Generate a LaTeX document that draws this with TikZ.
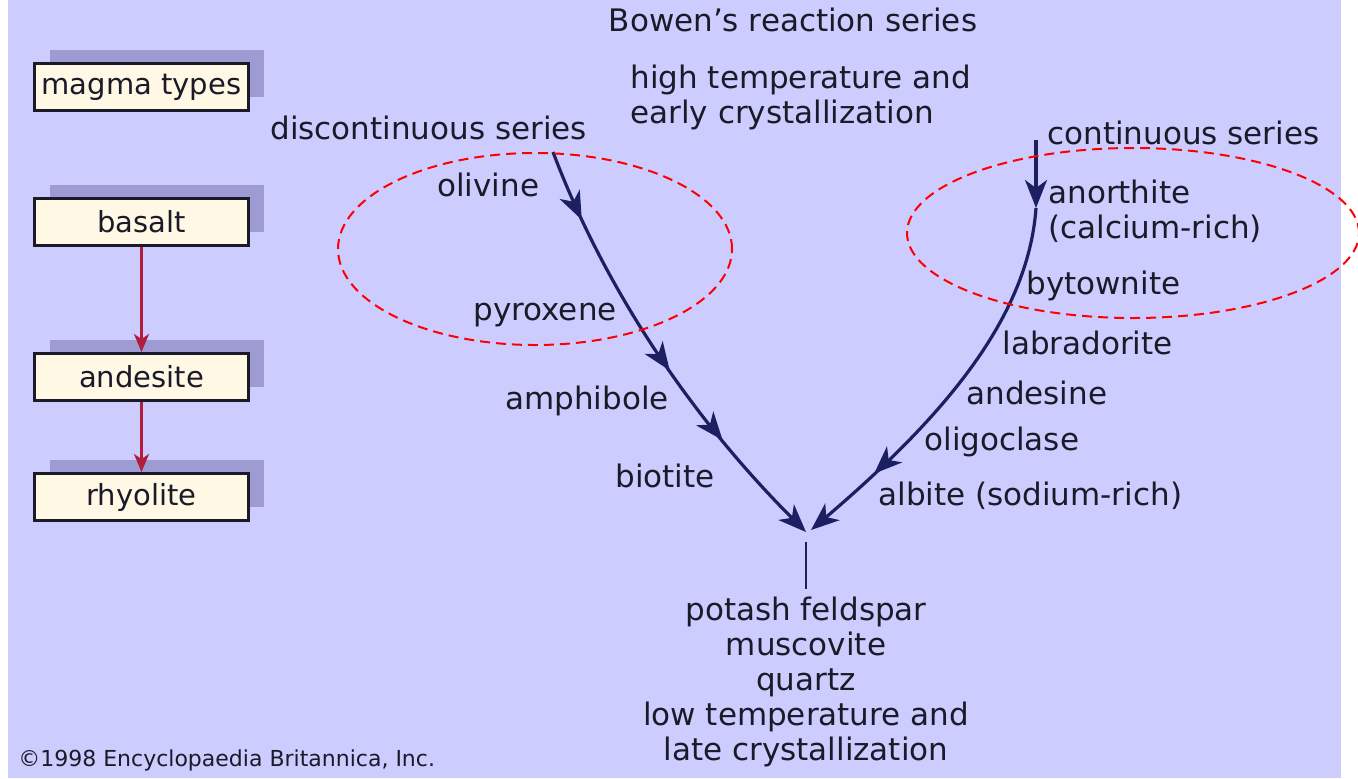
\documentclass[tikz,border=0pt]{standalone}
\usepackage{fontspec}
\setmainfont{DejaVu Sans}
\usepackage{tikz}
\usetikzlibrary{arrows.meta,positioning,shadows,decorations.markings}
\definecolor{lav}{HTML}{CCCCFF}
\definecolor{cream}{HTML}{FFF8E4}
\definecolor{shade}{HTML}{9E9AD2}
\definecolor{ink}{HTML}{1A1A28}
\definecolor{navy}{HTML}{1C2060}
\definecolor{maroon}{HTML}{B01E3C}
\newcommand{\navytip}{\arrow{Stealth[length=14pt,width=11pt,inset=4pt]}}
\tikzset{
  txt/.style={inner sep=0pt,text=ink,font=\fontsize{15.5}{17.5}\selectfont},
  mtype/.style={draw=ink,line width=1.5pt,fill=cream,inner sep=0pt,
    minimum width=107pt,minimum height=23.5pt,text=ink,
    font=\fontsize{14.5}{17}\selectfont,
    drop shadow={shadow xshift=7.5pt,shadow yshift=7pt,fill=shade,opacity=1}},
  mflow/.style={draw=maroon,line width=1.3pt,-{Stealth[length=9pt,width=7.5pt,inset=2.5pt]}},
  flow/.style={draw=navy,line width=1.6pt},
  flowtip/.style={flow,-{Stealth[length=14pt,width=11pt,inset=4pt]}},
  marks/.style={postaction={decorate,decoration={markings,#1}}},
  ring/.style={draw=red,line width=1pt,dash pattern=on 5pt off 3pt},
  copy/.style={inner sep=0pt,text=ink,font=\fontsize{11}{13}\selectfont},
}
\begin{document}
\begin{tikzpicture}[x=0.5pt,y=-0.5pt]
  \useasboundingbox (0,0) rectangle (1358,778);
  \fill[lav] (8,0) rectangle (1341,778);

  % magma types column
  \node[mtype] (magma) at (141.5,87) {magma types};
  \node[mtype,below=42.5pt of magma] (basalt) {basalt};
  \node[mtype,below=52.5pt of basalt] (andesite) {andesite};
  \node[mtype,below=35pt of andesite] (rhyolite) {rhyolite};
  \draw[mflow] (basalt) -- (andesite);
  \draw[mflow] (andesite) -- (rhyolite);

  % headings
  \node[txt] (title) at (793,20) {Bowen's reaction series};
  \node[txt,anchor=west,align=left] (hot) at (630,97) {high temperature and\\early crystallization};
  \node[txt,anchor=west] (disc) at (270,128) {discontinuous series};
  \node[txt,anchor=west] (cont) at (1047,133) {continuous series};

  % discontinuous branch
  \node[txt,anchor=west] (olivine) at (437,185) {olivine};
  \node[txt,anchor=west] (pyroxene) at (473,315) {pyroxene};
  \node[txt,anchor=west] (amphibole) at (505,401) {amphibole};
  \node[txt,anchor=west] (biotite) at (615,476) {biotite};

  % continuous branch
  \node[txt,anchor=west,align=left] (anorthite) at (1048,211) {anorthite\\(calcium-rich)};
  \node[txt,anchor=west] (bytownite) at (1026,286) {bytownite};
  \node[txt,anchor=west] (labradorite) at (1002,343) {labradorite};
  \node[txt,anchor=west] (andesine) at (966,393) {andesine};
  \node[txt,anchor=west] (oligoclase) at (924,442) {oligoclase};
  \node[txt,anchor=west] (albite) at (878,496) {albite (sodium-rich)};

  % low temperature end
  \node[txt,align=center] (late) at (806,682) {potash feldspar\\muscovite\\quartz\\low temperature and\\late crystallization};
  \node[copy,anchor=west] (brit) at (18,760) {\textcopyright 1998 Encyclopaedia Britannica, Inc.};

  \coordinate (dtop) at (553,152);
  \coordinate (ctop) at (1036,140);
  \coordinate (cbend) at (1036,208);
  \coordinate (dmeet) at (806,532);
  \coordinate (cmeet) at (811,530);
  \coordinate (stem) at (806,542);

  \draw[flowtip,marks={mark=at position 0.16 with {\navytip},
      mark=at position 0.54 with {\navytip},mark=at position 0.73 with {\navytip}}]
    (dtop) .. controls (602,282) and (686,412) .. (dmeet);
  \draw[flowtip] (ctop) -- (cbend);
  \draw[flowtip,marks={mark=at position 0.79 with {\navytip}}]
    (cbend) .. controls (1028,320) and (940,420) .. (cmeet);
  \draw[flow,line width=1pt] (stem) -- ([yshift=4pt]late.north);

  % the two circled groups
  \draw[ring] (535,249) ellipse [x radius=98.5pt,y radius=48pt];
  \draw[ring] (1133,233) ellipse [x radius=113pt,y radius=42.5pt];
\end{tikzpicture}
\end{document}
